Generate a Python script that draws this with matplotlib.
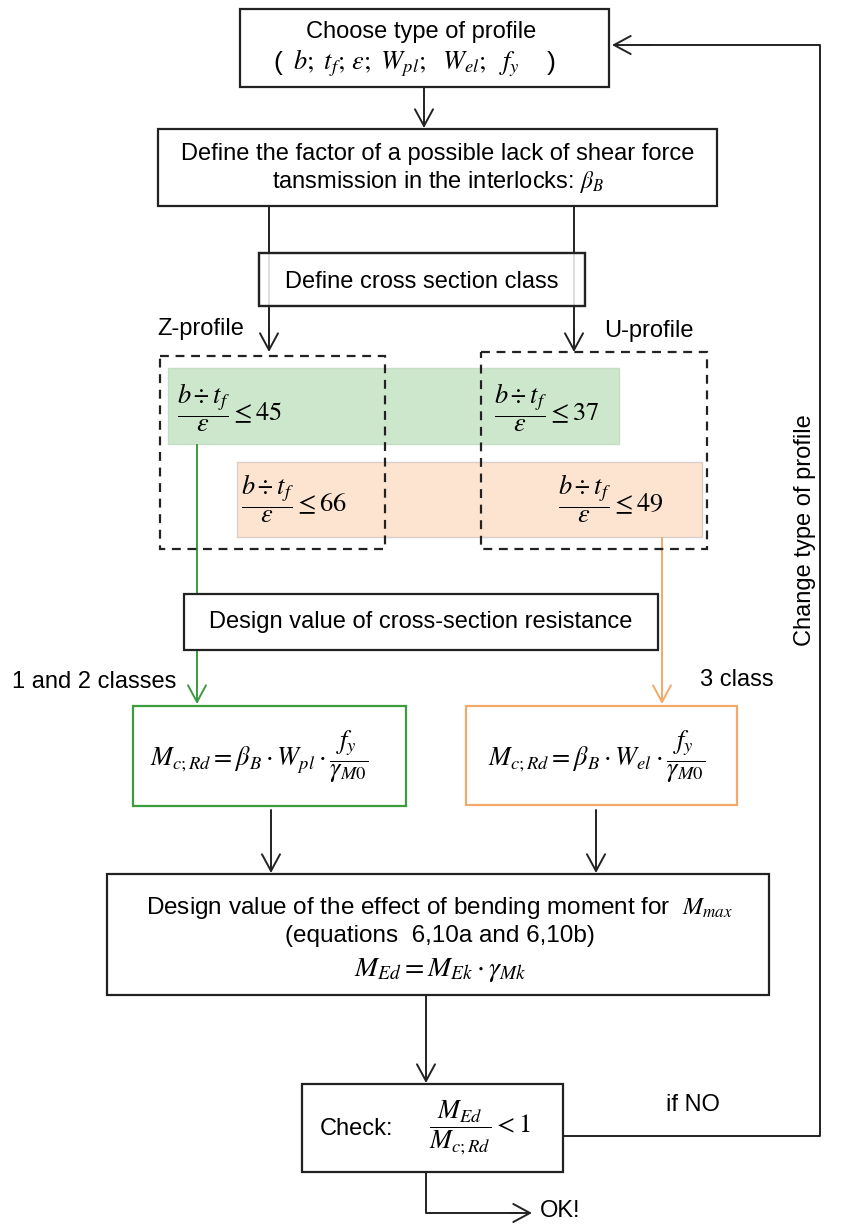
import matplotlib.pyplot as plt
from matplotlib.patches import Rectangle

plt.rcParams["font.family"] = ["Liberation Sans", "DejaVu Sans"]
plt.rcParams["mathtext.fontset"] = "stix"

# text content of the flowchart
step_titles = [
    "Choose type of profile",
    "Define the factor of a possible lack of shear force\ntansmission in the interlocks: $\\beta_B$",
    "Define cross section class",
    "Design value of cross-section resistance",
    "Design value of the effect of bending moment for  $M_{max}$\n(equations  6,10a and 6,10b)",
    "Check:",
]
profile_params = r"$b;\ t_f;\,\varepsilon;\ W_{pl};\ \ W_{el};\ \ f_y$"
profiles = ["Z-profile", "U-profile"]
class_labels = ["1 and 2 classes", "3 class"]
# slenderness limits (b/t_f)/eps for class 1-2 and class 3
limit_z = [45, 66]
limit_u = [37, 49]
modulus = ["pl", "el"]

GREEN = "#3c9b3c"
ORANGE = "#f2aa68"
GREEN_FILL = "#cde7cd"
ORANGE_FILL = "#fce4d0"
FS = 17
MS = 19

fig = plt.figure(figsize=(8.57, 12.27), dpi=100)
ax = fig.add_axes([0, 0, 1, 1])
ax.set_xlim(0, 857)
ax.set_ylim(1227, 0)
ax.axis("off")


def box(x0, y0, x1, y1, ec="#222222", fc="white", lw=1.6, ls="-", z=3, alpha=1):
    ax.add_patch(Rectangle((x0, y0), x1 - x0, y1 - y0, ec=ec, fc=fc, lw=lw,
                           ls=ls, zorder=z, alpha=alpha))


def arrow(x0, y0, x1, y1, color="#222222"):
    ax.annotate("", xy=(x1, y1), xytext=(x0, y0), zorder=4,
                arrowprops=dict(arrowstyle="->,head_length=1.2,head_width=0.65",
                                color=color, lw=1.4, shrinkA=0, shrinkB=0))


def line(xs, ys, color="#222222"):
    ax.plot(xs, ys, color=color, lw=1.4, zorder=2, solid_capstyle="butt")


def frac_limit(v):
    return r"$\dfrac{b\div t_f}{\varepsilon}\leq %d$" % v


# box 1
box(240, 9, 609, 87)
ax.text(421, 32, step_titles[0], ha="center", va="center", fontsize=FS, zorder=5)
ax.text(273, 63, "(", ha="left", va="center", fontsize=MS, zorder=5)
ax.text(293, 63, profile_params, ha="left", va="center", fontsize=MS, zorder=5)
ax.text(556, 63, ")", ha="right", va="center", fontsize=MS, zorder=5)
arrow(424, 87, 424, 128)

# box 2
box(158, 129, 717, 206)
ax.text(438, 169, step_titles[1], ha="center", va="center", fontsize=FS,
        linespacing=1.18, zorder=5)

# branches
line([269, 269], [206, 340])
line([574, 574], [206, 340])
arrow(269, 330, 269, 352)
arrow(574, 330, 574, 352)
box(259, 253, 585, 306, fc="white", alpha=0.85, z=3)
box(259, 253, 585, 306, fc="none", z=3)
ax.text(422, 282, step_titles[2], ha="center", va="center", fontsize=FS, zorder=5)
ax.text(157, 329, profiles[0], ha="left", va="center", fontsize=FS, zorder=5)
ax.text(604, 331, profiles[1], ha="left", va="center", fontsize=FS, zorder=5)

# class bands
box(168, 368, 619, 444, ec="#c5dcc5", fc=GREEN_FILL, lw=1, z=1)
box(237, 462, 702, 537, ec="#d9cfc8", fc=ORANGE_FILL, lw=1, z=1)
ax.text(177, 408, frac_limit(limit_z[0]), ha="left", va="center", fontsize=MS, zorder=5)
ax.text(494, 408, frac_limit(limit_u[0]), ha="left", va="center", fontsize=MS, zorder=5)
ax.text(241, 499, frac_limit(limit_z[1]), ha="left", va="center", fontsize=MS, zorder=5)
ax.text(558, 499, frac_limit(limit_u[1]), ha="left", va="center", fontsize=MS, zorder=5)

# dashed profile boxes
box(160, 356, 385, 549, fc="none", lw=1.6, ls=(0, (4, 3)), z=4)
box(481, 352, 707, 549, fc="none", lw=1.6, ls=(0, (4, 3)), z=4)

# coloured paths
line([197, 197], [444, 690], color=GREEN)
arrow(197, 680, 197, 704, color=GREEN)
line([662, 662], [537, 690], color=ORANGE)
arrow(662, 680, 662, 704, color=ORANGE)

box(184, 594, 658, 650)
ax.text(421, 622, step_titles[3], ha="center", va="center", fontsize=FS, zorder=5)
ax.text(12, 682, class_labels[0], ha="left", va="center", fontsize=FS, zorder=5)
ax.text(700, 680, class_labels[1], ha="left", va="center", fontsize=FS, zorder=5)

# resistance boxes
box(133, 706, 406, 806, ec=GREEN, lw=1.6)
box(466, 706, 737, 805, ec=ORANGE, lw=1.6)
for x0, m in [(150, modulus[0]), (488, modulus[1])]:
    ax.text(x0, 757, r"$M_{c;Rd}=\beta_B\cdot W_{%s}\cdot\dfrac{f_y}{\gamma_{M0}}$" % m,
            ha="left", va="center", fontsize=MS, zorder=5)
arrow(271, 810, 271, 873)
arrow(596, 810, 596, 873)

# bending moment box
box(107, 874, 769, 995)
ax.text(440, 921, step_titles[4], ha="center", va="center", fontsize=17.5,
        linespacing=1.2, zorder=5)
ax.text(440, 970, r"$M_{Ed}=M_{Ek}\cdot\gamma_{Mk}$", ha="center", va="center",
        fontsize=MS + 1, zorder=5)
arrow(426, 995, 426, 1083)

# check box
box(302, 1084, 563, 1172)
ax.text(320, 1129, step_titles[5], ha="left", va="center", fontsize=FS, zorder=5)
ax.text(429, 1128, r"$\dfrac{M_{Ed}}{M_{c;Rd}}<1$", ha="left", va="center",
        fontsize=MS, zorder=5)
ax.text(666, 1105, "if NO", ha="left", va="center", fontsize=FS, zorder=5)

# loop back
line([563, 820, 820, 640], [1136, 1136, 45, 45])
arrow(650, 45, 612, 45)
ax.text(805, 530, "Change type of profile", rotation=90, ha="center", va="center",
        fontsize=FS, zorder=5)

# ok exit
line([426, 426, 520], [1172, 1213, 1213])
arrow(510, 1213, 532, 1213)
ax.text(540, 1211, "OK!", ha="left", va="center", fontsize=FS, zorder=5)

fig.savefig("out.png", dpi=100)
